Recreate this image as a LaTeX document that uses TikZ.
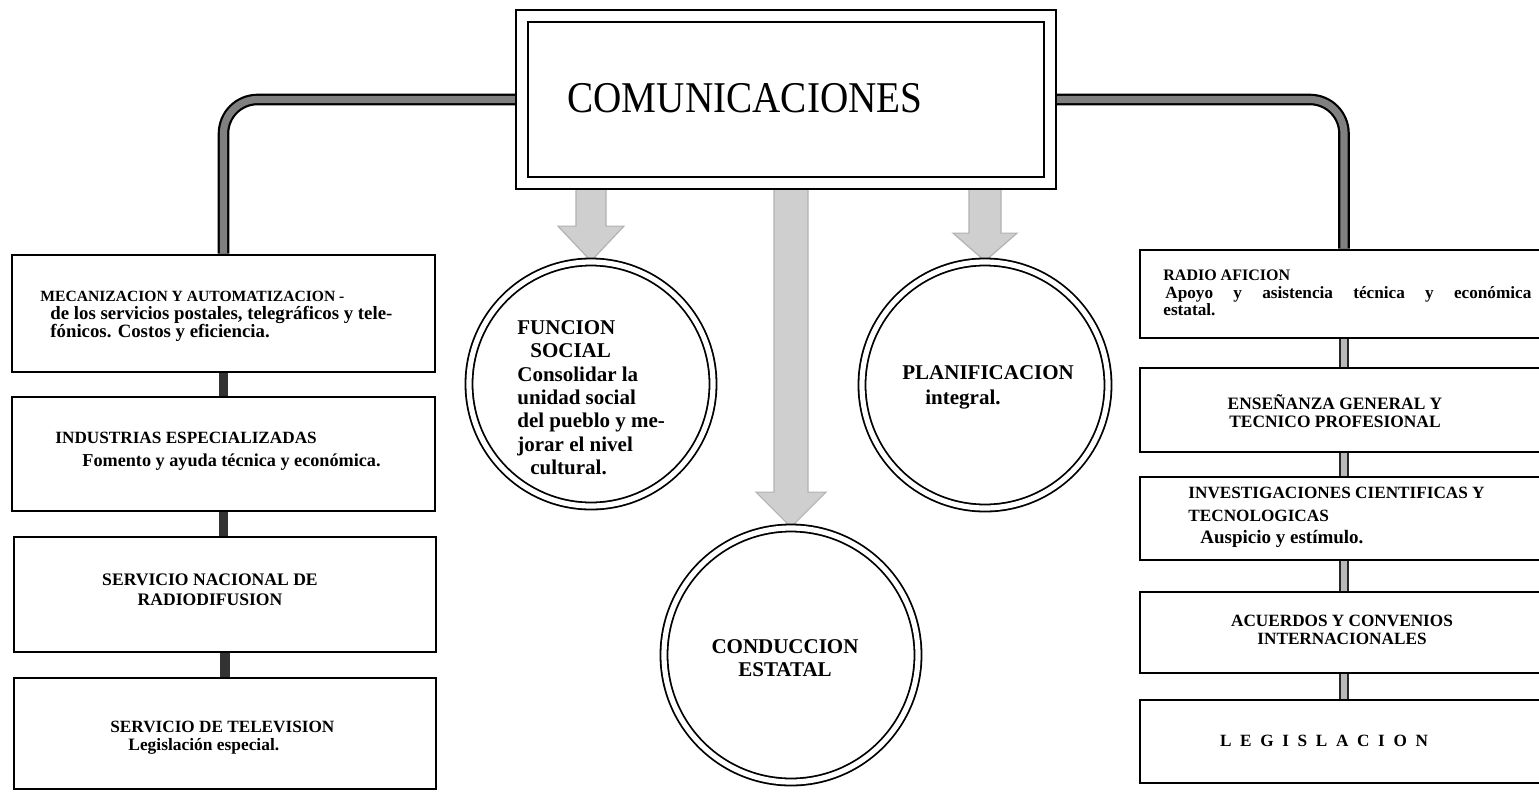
\documentclass[tikz,border=0pt]{standalone}
\usepackage{fontspec}
\setmainfont{Liberation Serif}
\usetikzlibrary{fit,calc,backgrounds}
\newcommand\blockarr[5]{%
  \filldraw[arrst] (#1) -- ++(#4,-#5) -- ++(#3-#4,0)
    -- ($(#1 |- #2)+(#3,0)$) -- ($(#1 |- #2)+(-#3,0)$)
    -- ($(#1)+(-#3,-#5)$) -- ++(#3-#4,0) -- cycle;}
\newcommand\lcsize[1]{\fontsize{#1}{9}\selectfont}
\begin{document}
\begin{tikzpicture}[x=0.5pt,y=-0.5pt,
  boxst/.style={draw, line width=1.4pt, inner sep=0pt, fill=white},
  comst/.style={draw, line width=1pt, double=white, double distance=5pt, inner sep=0pt},
  ringst/.style={circle, draw, line width=0.9pt, double=white, double distance=2.6pt, inner sep=0pt},
  mainbar/.style={line width=1.1pt, draw=black, double=black!50, double distance=3.6pt},
  linkL/.style={line width=4.6pt, draw=black!80},
  linkR/.style={line width=0.9pt, draw=black!85, double=gray!55, double distance=3.2pt},
  arrst/.style={fill=gray!38, draw=gray!60, line width=0.6pt},
  btxt/.style={inner sep=0pt, font=\fontsize{8.6}{9}\selectfont\bfseries},
  ctxt/.style={inner sep=0pt, font=\fontsize{10.5}{11.7}\selectfont\bfseries}
]
\useasboundingbox (0,0) rectangle (1539,793);

% central box
\node[comst, fit={(522,16) (1050,183)}] (com) {};
\node[inner sep=0pt, font=\fontsize{19.6}{22}\selectfont] (comt) at (745,98) {\scalebox{1}[1.12]{COMUNICACIONES}};

% left boxes
\node[boxst, fit={(12,255) (435,372)}] (b1) {};
\node[boxst, fit={(12,397) (435,511)}] (b2) {};
\node[boxst, fit={(14,537) (436,652)}] (b3) {};
\node[boxst, fit={(14,678) (436,789)}] (b4) {};

\node[btxt, anchor=north west, align=left, font=\fontsize{8}{8.9}\selectfont\bfseries] (b1t) at (40,291)
  {{\fontsize{7.8}{8}\selectfont MECANIZACION Y AUTOMATIZACION -}\\
   \hspace{5pt}{\lcsize{9.4}de los servicios postales, telegráficos y tele-}\\
   \hspace{5pt}{\lcsize{9.4}fónicos. Costos y eficiencia.}};
\node[btxt, anchor=north west, align=left, font=\fontsize{8.6}{11.5}\selectfont\bfseries] (b2t) at (55,432)
  {INDUSTRIAS ESPECIALIZADAS\\
   \hspace{13.5pt}{\lcsize{9.1}Fomento y ayuda técnica y económica.}};
\node[btxt, align=center, font=\fontsize{8.8}{10}\selectfont\bfseries] (b3t) at (210,590)
  {SERVICIO NACIONAL DE\\RADIODIFUSION};
\node[btxt, anchor=north west, align=left, font=\fontsize{8.6}{9}\selectfont\bfseries] (b4t) at (110,721)
  {SERVICIO DE TELEVISION\\
   \hspace{9pt}{\lcsize{8.7}Legislación especial.}};

% right boxes
\node[boxst, fit={(1140,250) (1548,338)}] (r1) {};
\node[boxst, fit={(1140,368) (1548,452)}] (r2) {};
\node[boxst, fit={(1140,477) (1548,560)}] (r3) {};
\node[boxst, fit={(1140,592) (1548,673)}] (r4) {};
\node[boxst, fit={(1140,700) (1548,783)}] (r5) {};

\node[btxt, anchor=north west, align=left, font=\fontsize{8}{8.75}\selectfont\bfseries] (r1t) at (1163,270)
  {RADIO AFICION\\
   \hspace{1pt}\makebox[183pt][s]{\lcsize{8.6}Apoyo y asistencia técnica y económica}\\
   {\lcsize{8.6}estatal.}};
\node[btxt, align=center, font=\fontsize{8.7}{9}\selectfont\bfseries] (r2t) at (1335,411)
  {ENSEÑANZA GENERAL Y\\TECNICO PROFESIONAL};
\node[btxt, anchor=north west, align=left, font=\fontsize{8.6}{11.2}\selectfont\bfseries] (r3t) at (1188,487)
  {INVESTIGACIONES CIENTIFICAS Y\\TECNOLOGICAS\\
   \hspace{6pt}{\lcsize{9.5}Auspicio y estímulo.}};
\node[btxt, align=center, font=\fontsize{8.6}{8.7}\selectfont\bfseries] (r4t) at (1342,630)
  {ACUERDOS Y CONVENIOS\\INTERNACIONALES};
\node[btxt] (r5t) at (1324,741) {\makebox[104pt][s]{L E G I S L A C I O N}};

% circles
\node[ringst, minimum size=122pt] (fs) at (591,384) {};
\node[ringst, minimum size=127pt] (cs) at (791,655) {};
\node[ringst, minimum size=123pt] (ps) at (985,385) {};

\node[ctxt, anchor=north west, align=left] (fst) at (517,320)
  {FUNCION\\
   \hspace{6.5pt}SOCIAL\\
   Consolidar la\\
   unidad social\\
   del pueblo y me-\\
   jorar el nivel\\
   \hspace{6.5pt}cultural.};
\node[ctxt, align=center, font=\fontsize{10.5}{11.5}\selectfont\bfseries] (cst) at (785,658)
  {CONDUCCION\\ESTATAL};
\node[ctxt, anchor=north west, align=left, font=\fontsize{10.5}{12.5}\selectfont\bfseries] (pst) at (902,365)
  {PLANIFICACION\\
   \hspace{11.5pt}integral.};

% connectors
\begin{scope}[on background layer]
\fill[white] (0,0) rectangle (1539,793);
\draw[mainbar, rounded corners=17pt] (com.west) -| (b1.north);
\draw[mainbar, rounded corners=17pt] (com.east) -| (r1.north);
\draw[linkL] (b1.south) -- (b1.south |- b2.north);
\draw[linkL] (b2.south) -- (b2.south |- b3.north);
\draw[linkL] (b3.south) -- (b3.south |- b4.north);
\draw[linkR] (r1.south) -- (r2.north);
\draw[linkR] (r2.south) -- (r3.north);
\draw[linkR] (r3.south) -- (r4.north);
\draw[linkR] (r4.south) -- (r5.north);
\blockarr{fs.north}{com.south}{15}{33}{35}
\blockarr{cs.north}{com.south}{17}{35}{35}
\blockarr{ps.north}{com.south}{16}{32}{28}
\end{scope}
\end{tikzpicture}
\end{document}
